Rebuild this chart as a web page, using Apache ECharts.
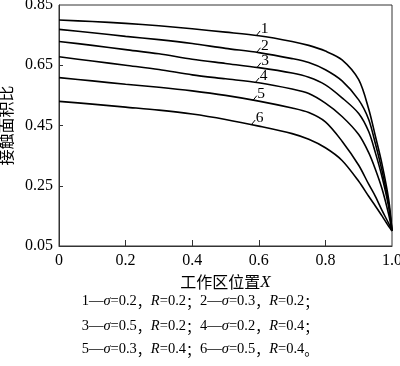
<!DOCTYPE html>
<html>
<head>
<meta charset="utf-8">
<script src="https://cdn.jsdelivr.net/npm/echarts@6/dist/echarts.min.js"></script>
<style>html,body{margin:0;padding:0;background:#fff;}#c{width:400px;height:366px;}</style>
</head>
<body>
<div id="c"></div>
<script>
// X positions (working zone position X)
const xs = [0, 0.1, 0.2, 0.3, 0.4, 0.5, 0.6, 0.7, 0.75, 0.8, 0.85, 0.9, 0.93, 0.95, 0.97, 0.99, 1.0];
// contact area ratio, curves 1..6
const c1 = [0.800, 0.795, 0.789, 0.781, 0.771, 0.760, 0.748, 0.729, 0.716, 0.697, 0.668, 0.602, 0.505, 0.415, 0.322, 0.205, 0.10];
const c2 = [0.769, 0.758, 0.746, 0.735, 0.722, 0.706, 0.692, 0.672, 0.659, 0.635, 0.598, 0.535, 0.470, 0.390, 0.300, 0.190, 0.10];
const c3 = [0.729, 0.716, 0.702, 0.688, 0.670, 0.656, 0.642, 0.624, 0.610, 0.585, 0.542, 0.490, 0.430, 0.360, 0.280, 0.180, 0.10];
const c4 = [0.678, 0.664, 0.650, 0.636, 0.618, 0.605, 0.592, 0.571, 0.556, 0.524, 0.480, 0.420, 0.360, 0.305, 0.240, 0.155, 0.10];
const c5 = [0.609, 0.598, 0.587, 0.577, 0.565, 0.550, 0.531, 0.508, 0.493, 0.462, 0.398, 0.318, 0.255, 0.215, 0.168, 0.125, 0.10];
const c6 = [0.530, 0.521, 0.511, 0.501, 0.488, 0.470, 0.448, 0.423, 0.404, 0.376, 0.334, 0.265, 0.215, 0.183, 0.150, 0.115, 0.10];
const curves = [c1, c2, c3, c4, c5, c6];
const curveNames = ['1', '2', '3', '4', '5', '6'];
// label anchor points on each curve
const labelX = [0.593, 0.594, 0.595, 0.590, 0.583, 0.578];
const labelY = [0.749, 0.693, 0.643, 0.593, 0.534, 0.453];
// ticks
const xTicks = [0, 0.2, 0.4, 0.6, 0.8, 1.0];
const yTicks = [0.05, 0.25, 0.45, 0.65, 0.85];
const captionLines = [
  '{n|1—}{i|σ}{n|=0.2}{c|，}{i|R}{n|=0.2}{c|；}{n|2—}{i|σ}{n|=0.3}{c|，}{i|R}{n|=0.2}{c|；}',
  '{n|3—}{i|σ}{n|=0.5}{c|，}{i|R}{n|=0.2}{c|；}{n|4—}{i|σ}{n|=0.2}{c|，}{i|R}{n|=0.4}{c|；}',
  '{n|5—}{i|σ}{n|=0.3}{c|，}{i|R}{n|=0.4}{c|；}{n|6—}{i|σ}{n|=0.5}{c|，}{i|R}{n|=0.4}{c|。}'
];

const serif = 'Liberation Serif';
const cjk = 'Noto Sans CJK SC';
const rich = {
  n: {fontFamily: serif, fontSize: 14.5, color: '#000'},
  i: {fontFamily: serif, fontStyle: 'italic', fontSize: 14.5, color: '#000'},
  c: {fontFamily: cjk, fontSize: 14, color: '#000'}
};
const captionTops = [294, 319, 342];

const series = curves.map((c, k) => ({
  type: 'line',
  data: xs.map((x, j) => [x, c[j]]),
  showSymbol: false,
  smooth: 0.3,
  lineStyle: {color: '#000', width: 1.6},
  itemStyle: {color: '#000'},
  silent: true,
  markLine: {
    silent: true,
    symbol: ['none', 'none'],
    animation: false,
    lineStyle: {color: '#000', width: 1, type: 'solid'},
    label: {show: false},
    data: [[{coord: [labelX[k], labelY[k]]}, {coord: [labelX[k] + 0.011, labelY[k] + 0.015]}]]
  },
  markPoint: {
    silent: true,
    animation: false,
    symbol: 'circle',
    symbolSize: 1,
    itemStyle: {color: 'rgba(0,0,0,0)'},
    label: {show: true, position: 'right', distance: 0, offset: [0, -2], formatter: curveNames[k], fontFamily: serif, fontSize: 15.5, color: '#000'},
    data: [{coord: [labelX[k] + 0.011, labelY[k] + 0.015]}]
  }
}));

const chart = echarts.init(document.getElementById('c'), null, {renderer: 'canvas'});
chart.setOption({
  animation: false,
  backgroundColor: '#fff',
  title: captionLines.map((t, i) => ({
    text: t, left: 'center', top: captionTops[i], padding: 0,
    textStyle: {rich: rich, fontSize: 14, fontWeight: 'normal'}
  })),
  grid: {left: 59, right: 8, top: 5, bottom: 120, containLabel: false, outerBoundsMode: 'none',
    show: true, borderColor: '#333', borderWidth: 1},
  xAxis: {
    type: 'value', min: 0, max: 1, interval: 0.2,
    name: '{a|工作区位置}{b|X}', nameLocation: 'middle', nameGap: 26,
    nameTextStyle: {rich: {a: {fontFamily: cjk, fontSize: 16, color: '#000'}, b: {fontFamily: serif, fontStyle: 'italic', fontSize: 17, color: '#000'}}},
    axisLine: {lineStyle: {color: '#333'}},
    axisTick: {inside: true, length: 6, lineStyle: {color: '#333'}, customValues: [0.2, 0.4, 0.6, 0.8]},
    axisLabel: {fontFamily: serif, fontSize: 16, color: '#000', margin: 7, customValues: xTicks,
      formatter: v => (v === 0 ? '0' : v.toFixed(1))},
    splitLine: {show: false}
  },
  yAxis: {
    type: 'value', min: 0.05, max: 0.85,
    name: '接触面积比', nameLocation: 'middle', nameGap: 40, nameRotate: 90,
    nameTextStyle: {fontFamily: cjk, fontSize: 16, color: '#000'},
    axisLine: {lineStyle: {color: '#333'}},
    axisTick: {inside: true, length: 4, lineStyle: {color: '#333'}, customValues: [0.25, 0.45, 0.65]},
    axisLabel: {fontFamily: serif, fontSize: 16, color: '#000', margin: 6, customValues: yTicks,
      formatter: v => v.toFixed(2)},
    splitLine: {show: false}
  },
  series: series
});
</script>
</body>
</html>
